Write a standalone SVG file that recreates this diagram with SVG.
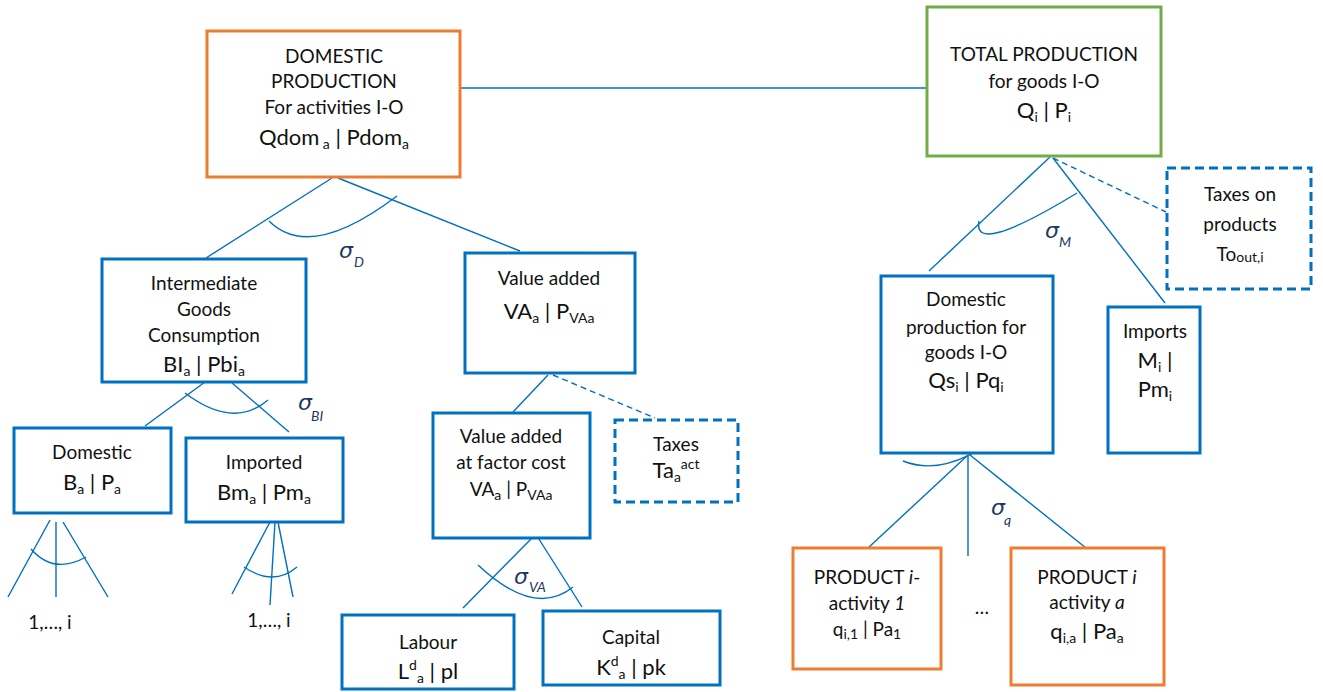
<svg xmlns="http://www.w3.org/2000/svg" width="1323" height="692" viewBox="0 0 1323 692">
<style>
text{font-family:Lato,"Open Sans","Liberation Sans",sans-serif;fill:#111;text-anchor:middle;font-size:19px}
.v{font-size:22px}
.sb{font-size:14px}
.box{fill:#fff;stroke:#0070C0;stroke-width:3}
.org{fill:#fff;stroke:#ED7D31;stroke-width:3}
.grn{fill:#fff;stroke:#70AD47;stroke-width:3}
.dsh{fill:#fff;stroke:#0070C0;stroke-width:3;stroke-dasharray:9 5}
.ln{fill:none;stroke:#0070C0;stroke-width:1.4}
.dl{fill:none;stroke:#0070C0;stroke-width:1.4;stroke-dasharray:6 4}
.sg{font-family:"DejaVu Sans","Liberation Sans",sans-serif;font-style:italic;fill:#1F3864;text-anchor:start;font-size:22px}
.ss{font-family:Lato,"Liberation Sans",sans-serif;font-style:italic;fill:#1F3864;text-anchor:start;font-size:14px}
</style>
<rect width="1323" height="692" fill="#fff"/>
<g id="connectors">
<line class="ln" x1="460" y1="88" x2="927" y2="88"/>
<line class="ln" x1="332" y1="178" x2="206" y2="258"/>
<line class="ln" x1="338" y1="178" x2="520" y2="251"/>
<path class="ln" d="M269,221 Q310,262 397,196"/>
<line class="ln" x1="205" y1="382" x2="145" y2="426"/>
<line class="ln" x1="232" y1="383" x2="289" y2="432"/>
<path class="ln" d="M185,393 Q233.5,429.5 268,400"/>
<line class="ln" x1="50" y1="520" x2="8" y2="597"/>
<line class="ln" x1="56" y1="522" x2="56" y2="597"/>
<line class="ln" x1="63" y1="522" x2="108" y2="597"/>
<path class="ln" d="M31,549 Q53.5,575 86,557"/>
<line class="ln" x1="270" y1="522" x2="232" y2="594"/>
<line class="ln" x1="275" y1="522" x2="270" y2="605"/>
<line class="ln" x1="278" y1="522" x2="293" y2="597"/>
<path class="ln" d="M244,567 Q273.5,587 297,567"/>
<line class="ln" x1="548" y1="375" x2="513" y2="412"/>
<line class="dl" x1="553" y1="375" x2="655" y2="418"/>
<line class="ln" x1="532" y1="538" x2="463" y2="608"/>
<line class="ln" x1="537" y1="536" x2="582" y2="607"/>
<path class="ln" d="M478,565 Q534.5,618 573,587"/>
<line class="ln" x1="1050" y1="157" x2="929" y2="271"/>
<line class="ln" x1="1053" y1="158" x2="1165" y2="303"/>
<line class="dl" x1="1053" y1="158" x2="1166" y2="212"/>
<path class="ln" d="M979,221 Q972,257 1077,193"/>
<line class="ln" x1="968" y1="455" x2="868" y2="548"/>
<line class="ln" x1="968" y1="455" x2="968" y2="556"/>
<line class="ln" x1="970" y1="455" x2="1086" y2="548"/>
<path class="ln" d="M903,461 Q950,480 1012,425"/>
</g>
<g id="sigmas">
<text class="sg" x="339" y="258">σ</text><text class="ss" x="354" y="267">D</text>
<text class="sg" x="298" y="410">σ</text><text class="ss" x="311" y="421">BI</text>
<text class="sg" x="514" y="584">σ</text><text class="ss" x="529" y="592">VA</text>
<text class="sg" x="1045" y="238">σ</text><text class="ss" x="1059" y="247">M</text>
<text class="sg" x="991" y="515">σ</text><text class="ss" x="1004" y="525">q</text>
</g>
<g id="domestic-production">
<rect class="org" x="207" y="31" width="253" height="146"/>
<text x="334" y="63">DOMESTIC</text>
<text x="334" y="88">PRODUCTION</text>
<text x="334" y="114">For activities I-O</text>
<text class="v" x="334" y="145">Qdom<tspan class="sb" dy="4"> a</tspan><tspan dy="-4"> | Pdom</tspan><tspan class="sb" dy="4">a</tspan></text>
</g>
<g id="total-production">
<rect class="grn" x="927" y="7" width="234" height="149"/>
<text x="1044" y="61">TOTAL PRODUCTION</text>
<text x="1044" y="88">for goods I-O</text>
<text class="v" x="1044" y="118">Q<tspan class="sb" dy="4">i</tspan><tspan dy="-4"> | P</tspan><tspan class="sb" dy="4">i</tspan></text>
</g>
<g id="intermediate">
<rect class="box" x="102" y="259" width="204" height="123"/>
<text x="204" y="290">Intermediate</text>
<text x="204" y="316">Goods</text>
<text x="204" y="342">Consumption</text>
<text class="v" x="204" y="372">BI<tspan class="sb" dy="4">a</tspan><tspan dy="-4"> | Pbi</tspan><tspan class="sb" dy="4">a</tspan></text>
</g>
<g id="value-added">
<rect class="box" x="465" y="253" width="170" height="120"/>
<text x="549" y="285">Value added</text>
<text class="v" x="549" y="319">VA<tspan class="sb" dy="4">a</tspan><tspan dy="-4"> | P</tspan><tspan class="sb" dy="4">VAa</tspan></text>
</g>
<g id="domestic-goods">
<rect class="box" x="14" y="428" width="157" height="85"/>
<text x="92" y="459">Domestic</text>
<text class="v" x="92" y="490">B<tspan class="sb" dy="4">a</tspan><tspan dy="-4"> | P</tspan><tspan class="sb" dy="4">a</tspan></text>
<text x="50" y="629">1,…, i</text>
</g>
<g id="imported-goods">
<rect class="box" x="186" y="438" width="157" height="84"/>
<text x="264" y="469">Imported</text>
<text class="v" x="264" y="500">Bm<tspan class="sb" dy="4">a</tspan><tspan dy="-4"> | Pm</tspan><tspan class="sb" dy="4">a</tspan></text>
<text x="269" y="627">1,…, i</text>
</g>
<g id="va-factor-cost">
<rect class="box" x="433" y="413" width="157" height="125"/>
<text x="511" y="443">Value added</text>
<text x="511" y="469">at factor cost</text>
<text x="511" y="496">VA<tspan class="sb" dy="4">a</tspan><tspan dy="-4"> | P</tspan><tspan class="sb" dy="4">VAa</tspan></text>
</g>
<g id="taxes">
<rect class="dsh" x="615" y="420" width="123" height="82"/>
<text x="676" y="451">Taxes</text>
<text class="v" x="676" y="478">Ta<tspan class="sb" dy="4">a</tspan><tspan class="sb" dy="-13">act</tspan></text>
</g>
<g id="labour">
<rect class="box" x="342" y="615" width="172" height="74"/>
<text x="428" y="649">Labour</text>
<text class="v" x="428" y="679">L<tspan class="sb" dy="-9">d</tspan><tspan class="sb" dy="13">a</tspan><tspan dy="-4"> | pl</tspan></text>
</g>
<g id="capital">
<rect class="box" x="543" y="611" width="177" height="74"/>
<text x="631" y="644">Capital</text>
<text class="v" x="631" y="675">K<tspan class="sb" dy="-9">d</tspan><tspan class="sb" dy="13">a</tspan><tspan dy="-4"> | pk</tspan></text>
</g>
<g id="taxes-products">
<rect class="dsh" x="1167" y="168" width="144" height="121"/>
<text x="1240" y="201">Taxes on</text>
<text x="1240" y="231">products</text>
<text x="1240" y="261">To<tspan class="sb" dy="1">out,i</tspan></text>
</g>
<g id="domestic-goods-io">
<rect class="box" x="881" y="276" width="172" height="177"/>
<text x="966" y="306">Domestic</text>
<text x="966" y="334">production for</text>
<text x="966" y="359">goods I-O</text>
<text class="v" x="966" y="388">Qs<tspan class="sb" dy="4">i</tspan><tspan dy="-4"> | Pq</tspan><tspan class="sb" dy="4">i</tspan></text>
</g>
<g id="imports">
<rect class="box" x="1108" y="307" width="92" height="146"/>
<text x="1155" y="338">Imports</text>
<text class="v" x="1155" y="368">M<tspan class="sb" dy="4">i</tspan><tspan dy="-4"> |</tspan></text>
<text class="v" x="1155" y="397">Pm<tspan class="sb" dy="4">i</tspan></text>
</g>
<g id="product-1">
<rect class="org" x="793" y="548" width="148" height="121"/>
<text x="867" y="584">PRODUCT <tspan font-style="italic">i</tspan>-</text>
<text x="867" y="610">activity <tspan font-style="italic">1</tspan></text>
<text x="867" y="636">q<tspan class="sb" dy="3">i,1</tspan><tspan dy="-3"> | Pa</tspan><tspan class="sb" dy="3">1</tspan></text>
</g>
<text x="982" y="614">…</text>
<g id="product-a">
<rect class="org" x="1011" y="548" width="153" height="137"/>
<text x="1087" y="584">PRODUCT <tspan font-style="italic">i</tspan></text>
<text x="1087" y="609">activity <tspan font-style="italic">a</tspan></text>
<text class="v" x="1087" y="639">q<tspan class="sb" dy="4">i,a</tspan><tspan dy="-4"> | Pa</tspan><tspan class="sb" dy="4">a</tspan></text>
</g>
</svg>
